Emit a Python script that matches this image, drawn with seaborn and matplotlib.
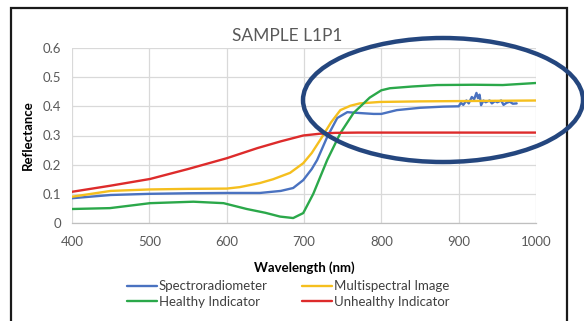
import matplotlib
matplotlib.use("Agg")
import matplotlib.pyplot as plt
from matplotlib.patches import Ellipse, Rectangle
import numpy as np
import pandas as pd
import seaborn as sns

# Spectral reflectance curves for sample L1P1
spectro_wl = [400, 450, 500, 550, 600, 643, 670, 686, 699, 710, 717, 730, 743, 756,
              772, 790, 800, 820, 850, 880, 898,
              900, 903, 906, 910, 913, 917, 920, 923, 925, 927, 929, 932, 935, 940,
              943, 947, 950, 955, 958, 962, 966, 970, 975]
spectro_rf = [0.085, 0.096, 0.100, 0.102, 0.103, 0.103, 0.110, 0.120, 0.147, 0.185, 0.216,
              0.295, 0.360, 0.380, 0.377, 0.374, 0.374, 0.387, 0.395, 0.399, 0.400,
              0.400, 0.412, 0.405, 0.420, 0.410, 0.432, 0.424, 0.446, 0.428, 0.440,
              0.404, 0.420, 0.414, 0.420, 0.410, 0.418, 0.414, 0.420, 0.405, 0.412,
              0.416, 0.409, 0.410]

multi_wl = [400, 450, 500, 550, 600, 617, 643, 660, 682, 699, 710, 721, 735, 747,
            760, 772, 798, 850, 900, 950, 1000]
multi_rf = [0.090, 0.110, 0.115, 0.117, 0.118, 0.123, 0.137, 0.150, 0.172, 0.205, 0.240,
            0.285, 0.345, 0.387, 0.402, 0.410, 0.415, 0.417, 0.418, 0.419, 0.420]

healthy_wl = [400, 449, 501, 557, 596, 626, 650, 669, 686, 699, 712, 730, 747, 764,
              785, 800, 811, 840, 872, 920, 957, 1000]
healthy_rf = [0.048, 0.051, 0.068, 0.073, 0.068, 0.048, 0.035, 0.022, 0.017, 0.034,
              0.100, 0.216, 0.308, 0.377, 0.430, 0.455, 0.462, 0.468, 0.473, 0.474,
              0.473, 0.480]

unhealthy_wl = [400, 450, 501, 550, 600, 640, 670, 699, 720, 740, 770, 800, 900, 1000]
unhealthy_rf = [0.107, 0.128, 0.151, 0.185, 0.222, 0.257, 0.280, 0.300, 0.306, 0.309,
                0.310, 0.310, 0.310, 0.310]

series_names = ["Spectroradiometer", "Multispectral Image",
                "Healthy Indicator", "Unhealthy Indicator"]
series_colors = ["#4A72C0", "#F5BF1E", "#2BA84A", "#DD2B2B"]

x_ticks = [400, 500, 600, 700, 800, 900, 1000]
y_ticks = [0, 0.1, 0.2, 0.3, 0.4, 0.5, 0.6]
y_tick_labels = ["0", "0.1", "0.2", "0.3", "0.4", "0.5", "0.6"]

frames = []
for name, wl, rf in zip(series_names,
                        [spectro_wl, multi_wl, healthy_wl, unhealthy_wl],
                        [spectro_rf, multi_rf, healthy_rf, unhealthy_rf]):
    frames.append(pd.DataFrame({"Wavelength": wl, "Reflectance": rf, "Series": name}))
df = pd.concat(frames, ignore_index=True)

sns.set_theme(style="white")
plt.rcParams["font.family"] = ["Lato", "DejaVu Sans"]

fig = plt.figure(figsize=(5.84, 3.21), dpi=100)
ax = fig.add_axes([72 / 584, 1 - 223 / 321, 464 / 584, 175 / 321])

sns.lineplot(data=df, x="Wavelength", y="Reflectance", hue="Series",
             hue_order=series_names, palette=series_colors, sort=False,
             estimator=None, linewidth=1.7, ax=ax, zorder=3)

ax.set_xlim(400, 1000)
ax.set_ylim(0, 0.6)
ax.set_xticks(x_ticks)
ax.set_yticks(y_ticks)
ax.set_yticklabels(y_tick_labels)
ax.grid(True, color="#D9D9D9", linewidth=0.9)
for side in ["top", "right", "left"]:
    ax.spines[side].set_visible(False)
ax.spines["bottom"].set_color("#BFBFBF")
ax.spines["bottom"].set_linewidth(0.9)
ax.tick_params(axis="both", length=0, labelsize=9.5, labelcolor="#595959")
ax.tick_params(axis="x", pad=9)
ax.tick_params(axis="y", pad=8)

ax.set_xlabel("Wavelength (nm)", fontsize=9.5, fontweight="bold", color="#000000",
              labelpad=10)
ax.set_ylabel("Reflectance", fontsize=9.5, fontweight="bold", color="#000000",
              labelpad=6)
fig.text(287 / 584, 1 - 36 / 321, "SAMPLE L1P1", ha="center", va="center",
         fontsize=12.5, color="#595959")

# Legend laid out in two columns: left column holds the first and third series
handles, labels = ax.get_legend_handles_labels()
order = [0, 2, 1, 3]
ax.legend([handles[i] for i in order], [labels[i] for i in order], ncol=2,
          loc="center", bbox_to_anchor=(288 / 584, 1 - 294 / 321),
          bbox_transform=fig.transFigure, frameon=False, fontsize=9.5,
          handlelength=2.3, handletextpad=0.1, columnspacing=2.6, labelspacing=0.25)
for t in ax.get_legend().get_texts():
    t.set_color("#404040")

# Outer frame of the figure
fig.add_artist(Rectangle((11 / 584, -0.1), (567 - 11) / 584, 1.1 - 8 / 321,
                         transform=fig.transFigure, fill=False,
                         edgecolor="#1A1A1A", linewidth=1.6))

# Highlight ellipse around the near-infrared plateau
fig.add_artist(Ellipse((443 / 584, 1 - 100 / 321), 280 / 584, 124 / 321,
                       transform=fig.transFigure, fill=False,
                       edgecolor="#24467E", linewidth=3.2, zorder=5))

fig.savefig("out.png", dpi=100)
